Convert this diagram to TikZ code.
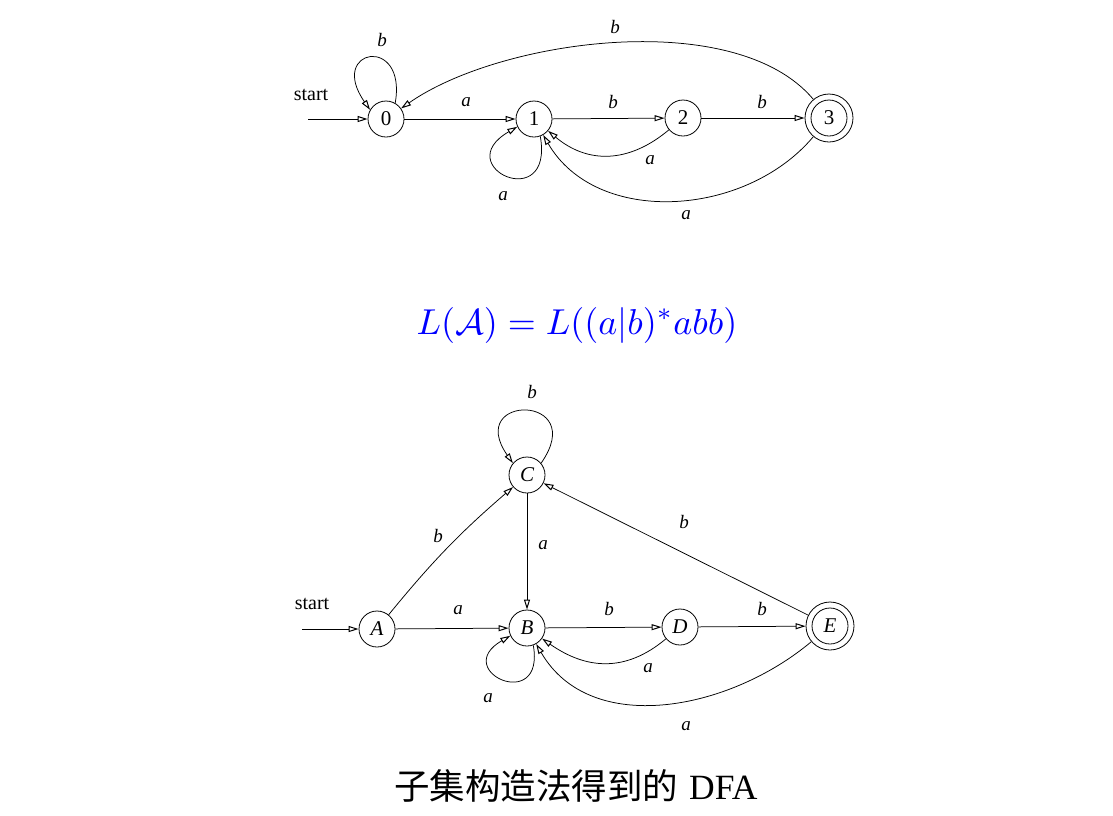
\documentclass[tikz,border=0pt]{standalone}
\usepackage{fontspec}
\usetikzlibrary{arrows.meta}
\newfontfamily\tms{Liberation Serif}
\newfontfamily\cjk{Noto Sans CJK SC}
\begin{document}
\begin{tikzpicture}[x=1pt,y=1pt,
  state/.style={circle,draw,line width=0.8pt,minimum size=36pt,inner sep=0pt,
    font=\tms\fontsize{21}{21}\selectfont},
  istate/.style={state,font=\tms\itshape\fontsize{21}{21}\selectfont},
  accept/.style={minimum size=48pt},
  edge/.style={line width=0.75pt,-{Triangle[open,length=10pt,width=6pt,line width=1pt]}},
  lab/.style={font=\tms\itshape\fontsize{19}{19}\selectfont,inner sep=0pt},
  startlab/.style={font=\tms\fontsize{20}{20}\selectfont,inner sep=0pt}]
\useasboundingbox (0,0) rectangle (1113,-815);
% ---------- top NFA ----------
\node[state] (n0) at (386,-119) {0};
\node[state] (n1) at (534,-119) {1};
\node[state] (n2) at (683,-118) {2};
\node[state,accept] (n3) at (829,-118) {3};
\draw[line width=0.8pt] (n3.center) circle[radius=18pt];
\coordinate (s0) at (308,-119);
\node[startlab] (st0) at (311,-95) {start};
\draw[edge] (s0) -- (n0);
\draw[edge] (n0) -- (n1);
\draw[edge] (n1) -- (n2);
\draw[edge] (n2) -- (n3);
\draw[edge] (n3) to[out=130,in=35,looseness=0.75] (n0);
\draw[edge] (n2) to[out=-140,in=-40,looseness=1.1] (n1);
\draw[edge] (n3) to[out=-130,in=-60] (n1);
\draw[edge] (n0.60) .. controls +(80:70) and +(125:75) .. (n0.150);
\draw[edge] (n1.-70) .. controls +(-80:80) and +(-150:80) .. (n1.-155);
\node[lab] (t1) at (382,-40) {b};
\node[lab] (t2) at (466,-102) {a};
\node[lab] (t3) at (613,-102) {b};
\node[lab] (t4) at (762,-102) {b};
\node[lab] (t5) at (615,-27) {b};
\node[lab] (t6) at (650,-160) {a};
\node[lab] (t7) at (503,-196) {a};
\node[lab] (t8) at (686,-215) {a};
% ---------- formula ----------
\node[text=blue,scale=3.6,inner sep=0pt] (f) at (577,-325) {$L(\mathcal{A})=L((a|b)^*abb)$};
% ---------- bottom DFA ----------
\node[istate] (A) at (377,-629) {A};
\node[istate] (B) at (527,-628) {B};
\node[istate] (C) at (527,-475) {C};
\node[istate] (D) at (680,-627) {D};
\node[istate,accept] (E) at (830,-626) {E};
\draw[line width=0.8pt] (E.center) circle[radius=18pt];
\coordinate (s1) at (302,-629);
\node[startlab] (st1) at (312,-604) {start};
\draw[edge] (s1) -- (A);
\draw[edge] (A) -- (B);
\draw[edge] (B) -- (D);
\draw[edge] (D) -- (E);
\draw[edge] (C) -- (B);
\draw[edge] (A) to[bend left=5] (C);
\draw[edge] (E) -- (C);
\draw[edge] (D) to[out=-140,in=-35,looseness=1.1] (B);
\draw[edge] (E) to[out=-140,in=-60] (B);
\draw[edge] (C.40) .. controls +(55:85) and +(125:85) .. (C.140);
\draw[edge] (B.-70) .. controls +(-80:70) and +(-150:70) .. (B.-155);
\node[lab] (u1) at (532,-392) {b};
\node[lab] (u2) at (438,-536) {b};
\node[lab] (u3) at (543,-545) {a};
\node[lab] (u4) at (458,-610) {a};
\node[lab] (u5) at (609,-609) {b};
\node[lab] (u6) at (762,-609) {b};
\node[lab] (u7) at (684,-522) {b};
\node[lab] (u8) at (648,-668) {a};
\node[lab] (u9) at (488,-698) {a};
\node[lab] (u10) at (686,-726) {a};
% ---------- caption ----------
\node[inner sep=0pt,font=\fontsize{35.5}{40}\selectfont] (cap) at (576,-786) {{\cjk 子集构造法得到的} {\tms DFA}};
\end{tikzpicture}
\end{document}
